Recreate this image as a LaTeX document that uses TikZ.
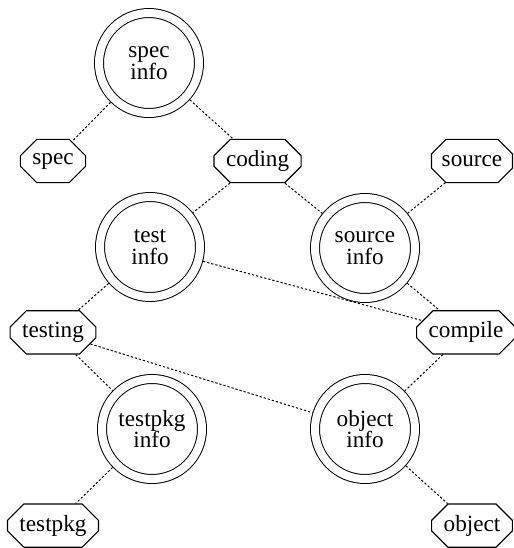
\documentclass[tikz,border=0pt]{standalone}
\usepackage{fontspec}
\setmainfont{Liberation Serif}
\usetikzlibrary{shapes.misc}

\tikzset{
	info/.style={draw, circle, line width=0.7pt, double, double distance=0.2cm,
		minimum size=2.5cm, inner sep=0pt, outer sep=0.125cm, align=center,
		font=\fontsize{16.5}{15.5}\selectfont},
	task/.style={draw, chamfered rectangle, chamfered rectangle xsep=0.3cm,
		line width=0.8pt, inner xsep=0pt, minimum height=1.08cm,
		font=\fontsize{16.5}{16}\selectfont},
	link/.style={dash pattern=on 1.6pt off 1.4pt, line width=0.7pt}
}

\begin{document}
\begin{tikzpicture}
	\useasboundingbox (0,0) rectangle (12.85,-13.7);

	\node[info] (specinfo) at (3.725,-1.575) {spec\\info};
	\node[info] (testinfo) at (3.75,-6.175) {test\\info};
	\node[info] (sourceinfo) at (9.125,-6.2) {source\\info};
	\node[info] (testpkginfo) at (3.8,-10.725) {testpkg\\info};
	\node[info] (objectinfo) at (9.125,-10.725) {object\\info};

	\node[task] (spec) at (1.325,-4.025) {spec};
	\node[task] (coding) at (6.44,-4.025) {coding};
	\node[task] (source) at (11.8,-4.025) {source};
	\node[task] (testing) at (1.325,-8.31) {testing};
	\node[task] (compile) at (11.65,-8.31) {compile};
	\node[task] (testpkg) at (1.325,-13.14) {testpkg};
	\node[task] (object) at (11.8,-13.14) {object};

	\draw[link] (specinfo) -- (spec);
	\draw[link] (specinfo) -- (coding);
	\draw[link] (coding) -- (testinfo);
	\draw[link] (coding) -- (sourceinfo);
	\draw[link] (source) -- (sourceinfo);
	\draw[link] (sourceinfo) -- (compile);
	\draw[link] (testinfo) -- (compile);
	\draw[link] (testinfo) -- (testing);
	\draw[link] (testing) -- (testpkginfo);
	\draw[link] (testing) -- (objectinfo);
	\draw[link] (compile) -- (objectinfo);
	\draw[link] (testpkginfo) -- (testpkg);
	\draw[link] (objectinfo) -- (object);
\end{tikzpicture}
\end{document}
